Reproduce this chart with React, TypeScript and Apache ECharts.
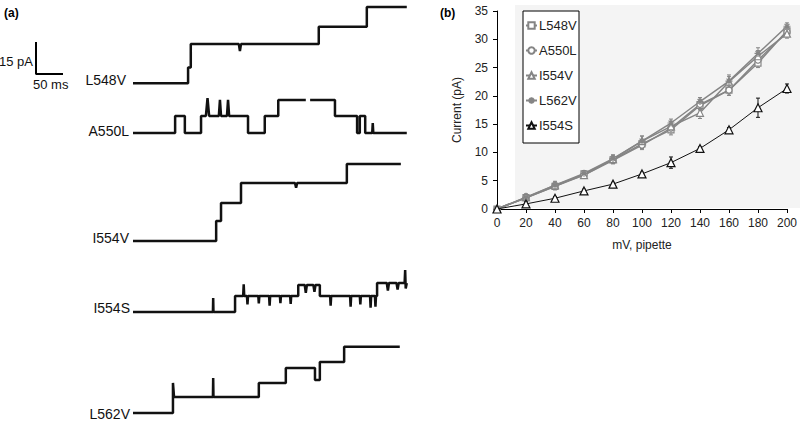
import React, { useEffect, useRef } from "react";
import * as echarts from "echarts";

// ---------- Panel (b): I–V data ----------
const voltages = [0, 20, 40, 60, 80, 100, 120, 140, 160, 180, 200];
const L548V = [0, 2.0, 4.0, 6.2, 8.7, 11.5, 14.0, 18.3, 21.0, 25.8, 31.5];
const A550L = [0, 2.0, 4.0, 6.0, 8.6, 11.3, 14.3, 18.5, 21.0, 26.3, 31.3];
const I554V = [0, 2.1, 4.2, 6.0, 8.8, 12.0, 14.6, 17.0, 22.5, 27.0, 31.0];
const L562V = [0, 2.0, 4.2, 6.3, 8.9, 12.0, 15.2, 19.0, 22.6, 27.5, 32.3];
const I554S = [0, 0.9, 1.9, 3.2, 4.4, 6.2, 8.2, 10.7, 14.0, 17.9, 21.3];

const L548V_err = [0, 0.5, 0.6, 0.6, 0.7, 0.8, 0.9, 0.8, 0.9, 0.8, 0.8];
const A550L_err = [0, 0.5, 0.6, 0.6, 0.6, 0.8, 0.8, 0.9, 0.9, 0.9, 0.7];
const I554V_err = [0, 0.6, 0.7, 0.6, 0.6, 0.9, 0.9, 1.0, 1.2, 1.0, 0.8];
const L562V_err = [0, 0.5, 0.6, 0.5, 0.7, 0.9, 0.7, 0.7, 0.8, 1.0, 0.6];
const I554S_err = [0, 0.4, 0.3, 0.3, 0.3, 0.3, 1.0, 0.3, 0.4, 1.7, 0.8];

const xTicks = [0, 200, 20];
const yTicks = [0, 35, 5];

// ---------- Panel (a): single-channel traces [time ms, current pA] ----------
const traceL548V = [
  [0, 0], [102, 0], [102, 7.5], [107, 7.5], [107, 18.8], [196, 18.8], [198, 15.5], [200, 18.8],
  [344, 18.8], [344, 27.2], [433, 27.2], [433, 36.6], [507, 36.6],
];
const traceA550L = [
  [0, 0], [78, 0], [78, 8.0], [96, 8.0], [96, 0], [126, 0], [126, 8.0], [135, 8.0], [138, 16.4],
  [141, 8.0], [159, 8.0], [161, 15.5], [163, 8.0], [174, 8.0], [176, 15.5], [178, 8.0],
  [213, 8.0], [213, 0], [244, 0], [244, 8.0], [269, 8.0], [269, 15.5], [320, 15.5], null,
  [328, 15.5], [374, 15.5], [374, 8.0], [415, 8.0], [415, 0], [420, 0], [420, 8.0], [430, 8.0],
  [430, 0], [443, 0], [444, 4.7], [445, 0], [507, 0],
];
const traceI554V = [
  [0, 0], [154, 0], [154, 9.4], [163, 9.4], [163, 17.8], [200, 17.8], [200, 27.2], [300, 27.2],
  [302, 25.0], [304, 27.2], [396, 27.2], [396, 36.1], [496, 36.1],
];
const traceI554S = [
  [0, 0], [148, 0], [148.5, 6.6], [149, 0], [189, 0], [189, 7.5], [204, 7.5], [205, 13.0], [206, 7.5],
  [211, 7.5], [212, 3.5], [213, 7.5], [232, 7.5], [233, 4.0], [234, 7.5], [252, 7.5], [253, 3.0],
  [254, 7.5], [272, 7.5], [273, 4.2], [274, 7.5], [291, 7.5], [292, 3.8], [293, 7.5], [306, 7.5],
  [306, 12.7], [318, 12.7], [320, 9.0], [322, 12.7], [334, 12.7], [336, 9.5], [338, 12.7],
  [346, 12.7], [346, 7.5], [365, 7.5], [366, 3.0], [367, 7.5], [402, 7.5], [403, 2.5], [404, 7.5],
  [420, 7.5], [421, 3.5], [422, 7.5], [439, 7.5], [440, 2.0], [441, 7.5], [448, 7.5], [449, 2.5],
  [450, 7.5], [452, 7.5], [452, 13.6], [470, 13.6], [472, 10.0], [474, 13.6], [488, 13.6],
  [490, 10.5], [492, 13.6], [503, 13.6], [504, 19.7], [505, 11.0], [507, 13.6],
];
const traceL562V = [
  [0, 0], [74, 0], [74, 14.1], [76, 7.5], [148, 7.5], [148.5, 16.4], [149, 7.5], [233, 7.5],
  [233, 14.1], [283, 14.1], [283, 21.1], [330, 21.1], [337, 21.1], [337, 15.5], [346, 15.5],
  [346, 23.9], [391, 23.9], [391, 31.0], [494, 31.0],
];

const scaleBar = [[0, 15], [0, 0], [50, 0]];
const scaleLabels = ["15 pA", "50 ms"];

const traceNames = ["L548V", "A550L", "I554V", "I554S", "L562V"];
const traceData = [traceL548V, traceA550L, traceI554V, traceI554S, traceL562V];

// layout (pixel baselines of each trace)
const traceBaselines = [83, 133, 241, 312, 413];
const traceLabelY = [80, 131, 238, 308, 414];
const traceLabelX = [126, 129, 129, 130, 130];

const FONT = "'Liberation Sans', Arial, Helvetica, sans-serif";
const GRAY = "#858585";
const BLACK = "#111";

const PX_PER_MS = 0.54;
const PX_PER_PA = 2.1333;
const TRACE_LEFT = 133;
const T_MAX = 507;
const Y_MIN = -4;
const Y_MAX = 40;

export default function App() {
  const ref = useRef<HTMLDivElement>(null);

  useEffect(() => {
    if (!ref.current) return;
    document.body.style.margin = "0";
    const chart = echarts.init(ref.current, undefined, { renderer: "svg" });

    const ivSeries = [
      { name: "L548V", data: L548V, err: L548V_err, symbol: "rect", size: 6, color: GRAY },
      { name: "A550L", data: A550L, err: A550L_err, symbol: "circle", size: 6, color: GRAY },
      { name: "I554V", data: I554V, err: I554V_err, symbol: "triangle", size: 7, color: GRAY },
      {
        name: "L562V", data: L562V, err: L562V_err,
        symbol: "path://M5 0L5 10M0 5L10 5M1.5 1.5L8.5 8.5M8.5 1.5L1.5 8.5", size: 7, color: GRAY,
      },
      { name: "I554S", data: I554S, err: I554S_err, symbol: "triangle", size: 8, color: BLACK },
    ];

    const grids: any[] = [
      { left: 497, top: 11, width: 294, height: 198 },
    ];
    const xAxes: any[] = [
      {
        gridIndex: 0, type: "value", min: xTicks[0], max: xTicks[1], interval: xTicks[2],
        name: "mV, pipette", nameLocation: "middle", nameGap: 30,
        nameTextStyle: { fontSize: 12, color: "#222", fontFamily: FONT },
        axisLine: { lineStyle: { color: "#000", width: 1 } },
        axisTick: { show: true, length: 4, lineStyle: { color: "#000" } },
        axisLabel: { fontSize: 12, color: "#222", fontFamily: FONT, margin: 8 },
        splitLine: { show: false },
      },
    ];
    const yAxes: any[] = [
      {
        gridIndex: 0, type: "value", min: yTicks[0], max: yTicks[1], interval: yTicks[2],
        name: "Current (pA)", nameLocation: "middle", nameGap: 34,
        nameTextStyle: { fontSize: 12, color: "#222", fontFamily: FONT },
        axisLine: { show: true, lineStyle: { color: "#000", width: 1 } },
        axisTick: { show: true, length: 4, lineStyle: { color: "#000" } },
        axisLabel: { fontSize: 12, color: "#222", fontFamily: FONT, margin: 9 },
        splitLine: { show: false },
      },
    ];

    const series: any[] = [];
    ivSeries.forEach((s) => {
      series.push({
        name: s.name, type: "line", xAxisIndex: 0, yAxisIndex: 0,
        data: voltages.map((v, i) => [v, s.data[i]]),
        symbol: s.symbol, symbolSize: s.size, showSymbol: true,
        lineStyle: { color: s.color, width: s.color === BLACK ? 1 : 1.5 },
        itemStyle: { color: "#fff", borderColor: s.color, borderWidth: 1.2 },
        z: s.color === BLACK ? 4 : 3,
      });
      series.push({
        type: "custom", xAxisIndex: 0, yAxisIndex: 0,
        data: voltages.map((v, i) => [v, s.data[i], s.err[i]]),
        renderItem: (params: any, api: any) => {
          const x = api.value(0), y = api.value(1), e = api.value(2);
          if (!e) return null;
          const top = api.coord([x, y + e]);
          const bot = api.coord([x, y - e]);
          const st = { stroke: s.color, lineWidth: 1 };
          return {
            type: "group",
            children: [
              { type: "line", shape: { x1: top[0], y1: top[1], x2: bot[0], y2: bot[1] }, style: st },
              { type: "line", shape: { x1: top[0] - 2, y1: top[1], x2: top[0] + 2, y2: top[1] }, style: st },
              { type: "line", shape: { x1: bot[0] - 2, y1: bot[1], x2: bot[0] + 2, y2: bot[1] }, style: st },
            ],
          };
        },
        z: 2,
      });
    });

    // trace grids
    const gridH = (Y_MAX - Y_MIN) * PX_PER_PA;
    traceData.forEach((d, k) => {
      const gi = grids.length;
      grids.push({
        left: TRACE_LEFT, width: T_MAX * PX_PER_MS,
        top: traceBaselines[k] - Y_MAX * PX_PER_PA, height: gridH,
      });
      xAxes.push({ gridIndex: gi, type: "value", min: 0, max: T_MAX, show: false });
      yAxes.push({ gridIndex: gi, type: "value", min: Y_MIN, max: Y_MAX, show: false });
      series.push({
        type: "line", xAxisIndex: gi, yAxisIndex: gi, data: d, showSymbol: false,
        symbol: "none", connectNulls: false, clip: false,
        lineStyle: { color: BLACK, width: 2.5 }, silent: true,
      });
    });

    // scale bar grid
    {
      const gi = grids.length;
      grids.push({ left: 36, top: 42, width: 50 * PX_PER_MS, height: 15 * PX_PER_PA });
      xAxes.push({ gridIndex: gi, type: "value", min: 0, max: 50, show: false });
      yAxes.push({ gridIndex: gi, type: "value", min: 0, max: 15, show: false });
      series.push({
        type: "line", xAxisIndex: gi, yAxisIndex: gi, data: scaleBar, showSymbol: false,
        symbol: "none", clip: false, lineStyle: { color: "#000", width: 2 },
      });
    }

    const graphic: any[] = [
      { type: "rect", shape: { x: 515, y: 5, width: 285, height: 203 }, style: { fill: "#f4f4f4" }, z: -10 },
      { type: "rect", shape: { x: 523, y: 11, width: 56, height: 132 }, style: { fill: "#fff", stroke: "#000", lineWidth: 1 }, z: -5 },
      { type: "text", x: 4, y: 13, style: { text: "(a)", fontSize: 12, fontWeight: "bold", fontFamily: FONT, fill: "#000", verticalAlign: "middle" } },
      { type: "text", x: 440, y: 13, style: { text: "(b)", fontSize: 12, fontWeight: "bold", fontFamily: FONT, fill: "#000", verticalAlign: "middle" } },
      { type: "text", x: 33, y: 61, style: { text: scaleLabels[0], fontSize: 13, fontFamily: FONT, fill: "#111", align: "right", verticalAlign: "middle" } },
      { type: "text", x: 33, y: 84, style: { text: scaleLabels[1], fontSize: 13, fontFamily: FONT, fill: "#111", align: "left", verticalAlign: "middle" } },
    ];
    traceNames.forEach((n, k) => {
      graphic.push({
        type: "text", x: traceLabelX[k], y: traceLabelY[k],
        style: { text: n, fontSize: 14, fontFamily: FONT, fill: "#111", align: "right", verticalAlign: "middle" },
      });
    });

    chart.setOption({
      animation: false,
      backgroundColor: "#fff",
      grid: grids,
      xAxis: xAxes,
      yAxis: yAxes,
      legend: {
        data: ivSeries.map((s) => s.name),
        orient: "vertical", left: 525, top: 19, padding: 0, itemGap: 12,
        itemWidth: 11, itemHeight: 8,
        textStyle: { fontSize: 13, color: "#222", fontFamily: FONT, padding: [0, 0, 0, -3] },
      },
      graphic,
      series,
    });

    return () => chart.dispose();
  }, []);

  return <div ref={ref} style={{ position: "absolute", left: 0, top: 0, width: 800, height: 422 }} />;
}
